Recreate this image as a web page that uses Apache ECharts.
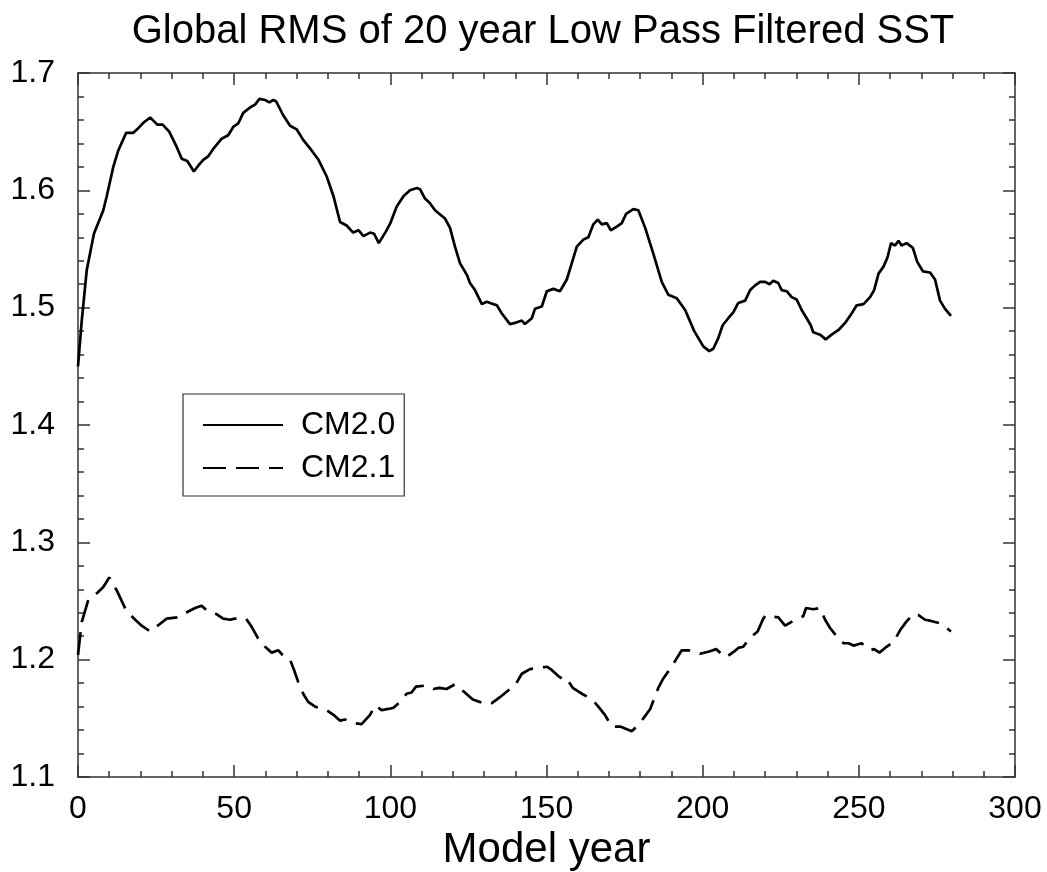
<!DOCTYPE html>
<html>
<head>
<meta charset="utf-8">
<script src="https://cdn.jsdelivr.net/npm/echarts@6/dist/echarts.min.js"></script>
<style>
html,body{margin:0;padding:0;background:#fff;}
#chart{width:1047px;height:872px;}
</style>
</head>
<body>
<div id="chart"></div>
<script>
const titleText = 'Global RMS of 20 year Low Pass Filtered SST';
const xName = 'Model year';
const seriesNames = ['CM2.0', 'CM2.1'];
const xTicks = [0, 50, 100, 150, 200, 250, 300];
const yTicks = [1.1, 1.2, 1.3, 1.4, 1.5, 1.6, 1.7];

const cm20Years = [0,1.2,2.8,5.1,8.1,9.2,11.3,12.9,15.4,17.7,19.3,21.1,23.1,25.4,27.1,29.2,31.6,33.2,35.0,37.1,38.5,40.1,41.7,43.5,46.0,48.1,49.7,51.3,52.9,55.3,56.7,58.1,59.9,61.3,62.5,63.4,65.7,67.9,70.0,72.1,74.8,77.0,79.6,81.8,83.9,86.0,88.1,89.8,91.4,93.5,94.8,96.3,98.6,100,102.0,104.2,106.3,108.5,109.5,111.1,112.7,114.3,117.5,119.1,120.7,122.3,124.5,125.5,127.1,129.3,130.9,133.0,134.1,135.7,138.3,139.9,142.1,143.1,145.3,146.3,148.5,150.1,152.2,154.3,156.5,158.1,159.7,161.8,163.4,165.0,166.4,167.7,169.3,170.6,172.5,174.1,175.5,177.8,179.4,181.6,184.2,186.9,189.0,191.7,194.4,197.3,200.2,202.1,203.4,205.0,206.4,208.2,209.8,211.4,213.6,215.2,216.8,218.4,220.0,221.4,222.6,224.2,225.3,226.9,228.5,230.1,231.7,233.3,234.6,235.4,237.6,239.4,241.3,243.5,245.6,247.7,249.3,251.5,253.6,254.9,256.3,257.9,259.2,260.3,261.6,262.7,263.7,265.3,267.3,268.7,270.5,272.8,274.4,276.0,277.6,279.5];
const cm20Values = [1.450,1.489,1.532,1.563,1.583,1.595,1.620,1.634,1.649,1.649,1.653,1.658,1.662,1.656,1.656,1.650,1.637,1.627,1.625,1.616,1.621,1.626,1.629,1.636,1.644,1.647,1.654,1.657,1.666,1.671,1.673,1.678,1.677,1.675,1.677,1.676,1.664,1.655,1.652,1.643,1.634,1.626,1.612,1.595,1.573,1.570,1.564,1.566,1.561,1.564,1.563,1.555,1.565,1.572,1.586,1.595,1.600,1.602,1.601,1.593,1.589,1.583,1.576,1.568,1.552,1.538,1.528,1.521,1.515,1.503,1.505,1.503,1.502,1.495,1.486,1.487,1.489,1.486,1.491,1.499,1.501,1.514,1.516,1.514,1.524,1.538,1.552,1.558,1.560,1.571,1.575,1.571,1.572,1.566,1.569,1.572,1.580,1.584,1.583,1.568,1.546,1.522,1.511,1.508,1.498,1.480,1.467,1.463,1.465,1.474,1.485,1.491,1.496,1.504,1.506,1.515,1.519,1.522,1.522,1.520,1.523,1.521,1.515,1.514,1.509,1.507,1.498,1.491,1.485,1.479,1.477,1.473,1.477,1.481,1.487,1.495,1.502,1.503,1.509,1.515,1.529,1.535,1.543,1.555,1.553,1.557,1.553,1.555,1.551,1.539,1.531,1.530,1.524,1.506,1.499,1.493];

const cm21Years = [0,1.2,3.3,6.2,8.1,10.0,12.4,15.4,18.3,20.4,23.1,26.0,28.4,31.8,35.3,37.5,39.6,41.2,44.2,46.5,48.7,50.2,53.8,55.6,57.7,59.9,62.0,64.1,65.5,67.9,69.2,70.5,72.1,73.7,75.9,79.6,81.8,83.9,85.5,88.1,90.8,93.5,95.1,97.2,99.4,101.0,103.6,105.2,106.8,108.2,111.6,113.8,115.7,118.0,120.7,123.4,126.4,129.6,130.9,132.5,135.1,138.3,139.9,142.1,144.7,147.9,150.1,151.3,153.8,155.4,156.4,158.4,161.3,163.4,165.0,166.6,168.7,170.9,173.6,177.3,178.9,181.0,183.2,185.8,187.4,189.0,191.2,193.3,195.4,197.6,199.2,202.1,204.3,205.6,207.5,210.1,211.4,213.0,214.9,217.6,219.4,220.3,221.6,224.2,226.4,229.6,232.2,233.1,235.4,237.6,239.2,240.8,242.9,245.1,246.7,248.3,250.9,253.6,254.9,256.6,258.4,261.1,263.2,265.1,267.5,269.1,271.2,273.1,276.0,278.1,279.5];
const cm21Values = [1.204,1.232,1.251,1.257,1.262,1.270,1.259,1.242,1.234,1.229,1.224,1.230,1.235,1.236,1.241,1.244,1.246,1.242,1.239,1.235,1.234,1.235,1.235,1.228,1.218,1.211,1.206,1.208,1.204,1.200,1.191,1.181,1.171,1.164,1.160,1.157,1.153,1.148,1.149,1.146,1.145,1.153,1.161,1.157,1.158,1.159,1.165,1.171,1.172,1.177,1.178,1.175,1.176,1.175,1.179,1.173,1.166,1.163,1.164,1.163,1.168,1.175,1.178,1.188,1.192,1.193,1.194,1.192,1.186,1.183,1.184,1.176,1.171,1.168,1.165,1.160,1.153,1.143,1.143,1.139,1.143,1.150,1.158,1.176,1.184,1.190,1.199,1.208,1.208,1.207,1.205,1.207,1.209,1.206,1.202,1.207,1.210,1.211,1.218,1.224,1.235,1.238,1.237,1.236,1.229,1.234,1.237,1.244,1.243,1.244,1.234,1.227,1.220,1.214,1.214,1.212,1.214,1.208,1.209,1.206,1.210,1.215,1.225,1.232,1.239,1.238,1.234,1.233,1.231,1.227,1.224];

const pairs = (xs, ys) => xs.map((x, i) => [x, ys[i]]);

const FONT = '"Liberation Sans", Arial, Helvetica, sans-serif';
const axisLineStyle = { color: '#333', width: 1.5 };

function makeX(pos, showLabel) {
  return {
    type: 'value', position: pos,
    min: xTicks[0], max: xTicks[xTicks.length - 1], interval: xTicks[1] - xTicks[0],
    name: showLabel ? xName : '', nameLocation: 'middle', nameGap: 48,
    nameTextStyle: { fontFamily: FONT, fontSize: 42, color: '#000' },
    axisLine: { show: true, onZero: false, lineStyle: axisLineStyle },
    axisTick: { show: true, inside: true, length: 12, lineStyle: axisLineStyle },
    minorTick: { show: true, splitNumber: 5, length: 6, lineStyle: axisLineStyle },
    axisLabel: { show: showLabel, margin: 16, fontFamily: FONT, fontSize: 32, color: '#000' },
    splitLine: { show: false }, minorSplitLine: { show: false }
  };
}
function makeY(pos, showLabel) {
  return {
    type: 'value', position: pos,
    min: yTicks[0], max: yTicks[yTicks.length - 1], interval: 0.1,
    axisLine: { show: true, onZero: false, lineStyle: axisLineStyle },
    axisTick: { show: true, inside: true, length: 12, lineStyle: axisLineStyle },
    minorTick: { show: true, splitNumber: 5, length: 6, lineStyle: axisLineStyle },
    axisLabel: { show: showLabel, margin: 23, fontFamily: FONT, fontSize: 32, color: '#000',
      formatter: v => v.toFixed(1) },
    splitLine: { show: false }, minorSplitLine: { show: false }
  };
}

const chart = echarts.init(document.getElementById('chart'), null, { renderer: 'canvas' });
chart.setOption({
  animation: false,
  backgroundColor: '#fff',
  title: {
    text: titleText, left: 538, textAlign: 'center', top: 7,
    textStyle: { fontFamily: FONT, fontSize: 40, fontWeight: 'normal', color: '#000' }
  },
  grid: { left: 78, right: 32, top: 73, bottom: 95, containLabel: false, outerBoundsMode: 'none' },
  legend: {
    orient: 'vertical', left: 183, top: 394,
    padding: [15, 9, 12, 19],
    itemWidth: 80, itemHeight: 20, itemGap: 11,
    borderColor: '#333', borderWidth: 1.2, backgroundColor: '#fff',
    itemStyle: { opacity: 0, borderWidth: 0 },
    textStyle: { fontFamily: FONT, fontSize: 32, color: '#000', padding: [0, 0, 0, 13] },
    data: seriesNames
  },
  xAxis: [makeX('bottom', true), makeX('top', false)],
  yAxis: [makeY('left', true), makeY('right', false)],
  series: [
    { name: seriesNames[0], type: 'line', xAxisIndex: 0, yAxisIndex: 0, symbol: 'none',
      data: pairs(cm20Years, cm20Values),
      lineStyle: { color: '#000', width: 2.7, type: 'solid' }, itemStyle: { color: '#000' } },
    { name: seriesNames[1], type: 'line', xAxisIndex: 0, yAxisIndex: 0, symbol: 'none',
      data: pairs(cm21Years, cm21Values),
      lineStyle: { color: '#000', width: 2.7, type: [23, 10] }, itemStyle: { color: '#000' } }
  ]
});
</script>
</body>
</html>
